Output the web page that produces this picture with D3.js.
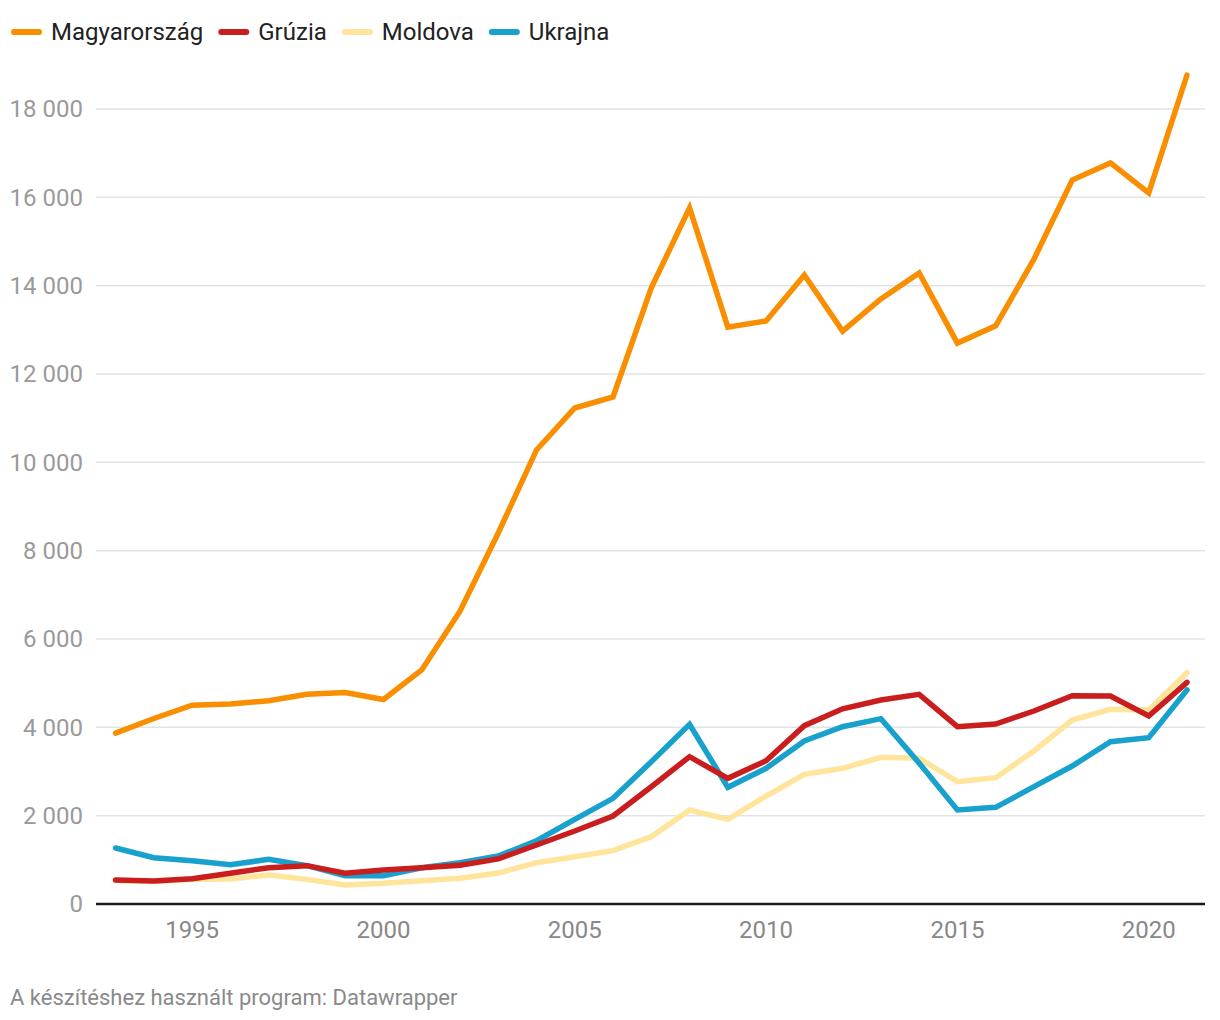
<!DOCTYPE html>
<html>
<head>
<meta charset="utf-8">
<script src="https://cdn.jsdelivr.net/npm/d3@7"></script>
<style>
body{margin:0;background:#fff;font-family:Roboto,"Noto Sans",sans-serif;}
</style>
</head>
<body>
<svg id="chart" width="1220" height="1020"></svg>
<script>
const years = [1993,1994,1995,1996,1997,1998,1999,2000,2001,2002,2003,2004,2005,2006,2007,2008,2009,2010,2011,2012,2013,2014,2015,2016,2017,2018,2019,2020,2021];
const magyarorszag = [3870,4200,4500,4530,4600,4750,4790,4630,5300,6630,8400,10280,11230,11480,13950,15760,13060,13200,14240,12970,13700,14290,12700,13090,14600,16390,16780,16100,18770];
const grusia = [543,520,573,695,822,868,695,770,822,876,1020,1336,1653,1992,2656,3335,2845,3244,4037,4420,4619,4747,4014,4075,4370,4717,4709,4256,5019];
const moldova = [530,510,560,566,656,558,430,468,528,582,700,935,1071,1207,1524,2128,1917,2445,2936,3072,3321,3298,2769,2860,3464,4166,4408,4392,5237];
const ukrajna = [1268,1049,981,890,1011,868,641,641,822,935,1087,1433,1917,2393,3222,4068,2642,3072,3690,4014,4196,3190,2128,2189,2656,3124,3675,3765,4845];
const seriesNames = ["Magyarország","Grúzia","Moldova","Ukrajna"];
const seriesColors = ["#f98e00","#c91d1e","#ffe59b","#18a1cd"];
const yTicks = [0,2000,4000,6000,8000,10000,12000,14000,16000,18000];
const xTicks = [1995,2000,2005,2010,2015,2020];

const svg = d3.select("#chart");
const x = d3.scaleLinear().domain([1993,2021]).range([115.6,1187]);
const y = d3.scaleLinear().domain([0,18000]).range([904,109]);
const left = 96, right = 1205;
const fmt = v => d3.format(",")(v).replace(/,/g," ");

// grid
const g = svg.append("g");
g.selectAll("line.grid").data(yTicks.filter(d=>d>0)).join("line")
  .attr("x1",left).attr("x2",right)
  .attr("y1",d=>y(d)).attr("y2",d=>y(d))
  .attr("stroke","#e3e3e3").attr("stroke-width",1.5);
g.selectAll("text.yl").data(yTicks).join("text")
  .attr("x",83).attr("y",d=>y(d)).attr("dy","0.35em")
  .attr("text-anchor","end").attr("fill","#9a9a9a")
  .attr("font-size",24).text(fmt);

// x labels
g.selectAll("text.xl").data(xTicks).join("text")
  .attr("x",d=>x(d)).attr("y",930).attr("dy","0.35em")
  .attr("text-anchor","middle").attr("fill","#888")
  .attr("font-size",24).text(d=>d);

const allSeries = [magyarorszag,grusia,moldova,ukrajna];
const line = d3.line().x((d,i)=>x(years[i])).y(d=>y(d));
const order = [2,3,1,0];
order.forEach(k=>{
  svg.append("path").datum(allSeries[k])
    .attr("d",line).attr("fill","none")
    .attr("stroke",seriesColors[k]).attr("stroke-width",5.5)
    .attr("stroke-linejoin","miter").attr("stroke-linecap","round");
});

// baseline
svg.append("line").attr("x1",left).attr("x2",right).attr("y1",904).attr("y2",904)
  .attr("stroke","#1a1a1a").attr("stroke-width",2.5);

// legend
const lg = svg.append("g");
let lx = 11;
seriesNames.forEach((n,i)=>{
  lg.append("line").attr("x1",lx+3).attr("x2",lx+28)
    .attr("y1",32).attr("y2",32).attr("stroke",seriesColors[i])
    .attr("stroke-width",6).attr("stroke-linecap","round");
  const t = lg.append("text").attr("x",lx+40).attr("y",32).attr("dy","0.35em")
    .attr("font-size",24).attr("fill","#222").text(n);
  const w = t.node().getComputedTextLength();
  lx = lx + 40 + w + 15;
});

svg.append("text").attr("x",10).attr("y",997).attr("dy","0.35em")
  .attr("font-size",22).attr("fill","#8a8a8a")
  .text("A készítéshez használt program: Datawrapper");
</script>
</body>
</html>
